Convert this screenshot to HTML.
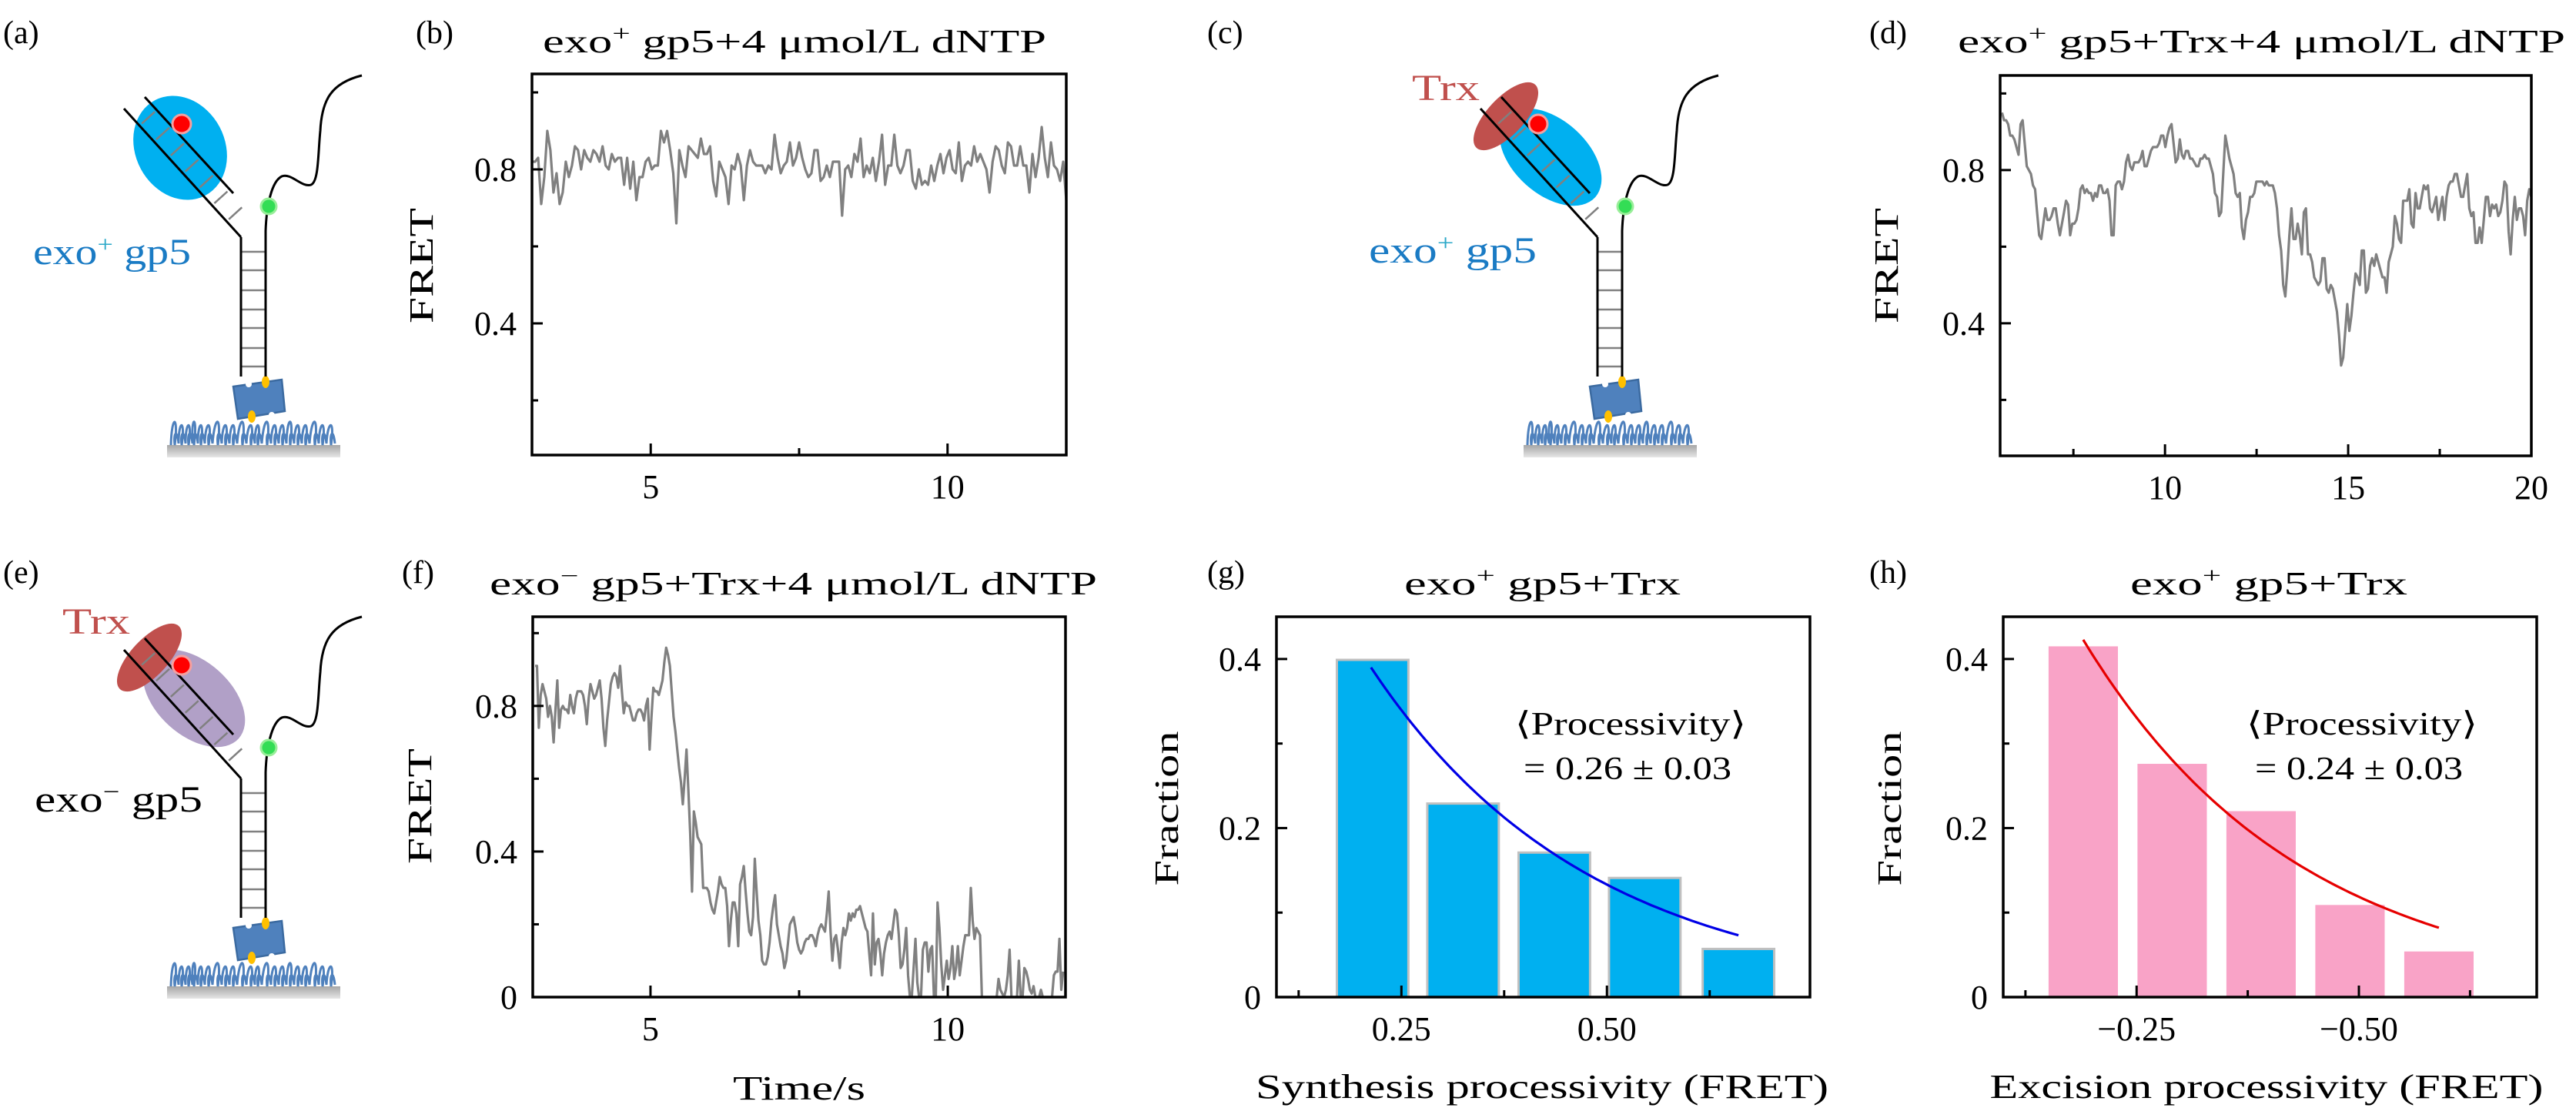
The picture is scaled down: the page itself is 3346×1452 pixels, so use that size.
<!DOCTYPE html>
<html><head><meta charset="utf-8"><style>
html,body{margin:0;padding:0;background:#fff;}
svg, svg text{font-family:"Liberation Serif","DejaVu Serif",serif;}
</style></head><body>
<svg id="fig" width="3346" height="1447" viewBox="0 0 3346 1447" xmlns="http://www.w3.org/2000/svg" font-family="Liberation Serif, serif">
<defs>
<linearGradient id="baseGrad" x1="0" y1="0" x2="0" y2="1"><stop offset="0" stop-color="#a6a6a6"/><stop offset="1" stop-color="#e6e6e6"/></linearGradient>
</defs>
<rect x="0" y="0" width="3346" height="1447" fill="#fff"/>
<g font-size="42" fill="#000">
<text x="4" y="56">(a)</text>
<text x="540" y="56">(b)</text>
<text x="1568" y="56">(c)</text>
<text x="2428" y="56">(d)</text>
<text x="4" y="757">(e)</text>
<text x="522" y="757">(f)</text>
<text x="1568" y="757">(g)</text>
<text x="2428" y="757">(h)</text>
</g>
<g font-size="42" fill="#000">
<text x="705" y="68" textLength="654" lengthAdjust="spacingAndGlyphs">exo<tspan baseline-shift="super" font-size="28">+</tspan> gp5+4 μmol/L dNTP</text>
<text x="2543" y="68" textLength="789" lengthAdjust="spacingAndGlyphs">exo<tspan baseline-shift="super" font-size="28">+</tspan> gp5+Trx+4 μmol/L dNTP</text>
<text x="636" y="772" textLength="789" lengthAdjust="spacingAndGlyphs">exo<tspan baseline-shift="super" font-size="28">−</tspan> gp5+Trx+4 μmol/L dNTP</text>
<text x="1824" y="772" textLength="359" lengthAdjust="spacingAndGlyphs">exo<tspan baseline-shift="super" font-size="28">+</tspan> gp5+Trx</text>
<text x="2767" y="772" textLength="360" lengthAdjust="spacingAndGlyphs">exo<tspan baseline-shift="super" font-size="28">+</tspan> gp5+Trx</text>
</g>
<g font-size="44" fill="#000">
<text transform="translate(562,345) rotate(-90)" text-anchor="middle" textLength="150" lengthAdjust="spacingAndGlyphs">FRET</text>
<text transform="translate(2465,345) rotate(-90)" text-anchor="middle" textLength="150" lengthAdjust="spacingAndGlyphs">FRET</text>
<text transform="translate(560,1047) rotate(-90)" text-anchor="middle" textLength="150" lengthAdjust="spacingAndGlyphs">FRET</text>
<text transform="translate(1530,1050) rotate(-90)" text-anchor="middle" textLength="201" lengthAdjust="spacingAndGlyphs">Fraction</text>
<text transform="translate(2469,1050) rotate(-90)" text-anchor="middle" textLength="201" lengthAdjust="spacingAndGlyphs">Fraction</text>
<text x="1038" y="1428" text-anchor="middle" textLength="172" lengthAdjust="spacingAndGlyphs">Time/s</text>
<text x="2003" y="1426" text-anchor="middle" textLength="744" lengthAdjust="spacingAndGlyphs">Synthesis processivity (FRET)</text>
<text x="2944" y="1426" text-anchor="middle" textLength="719" lengthAdjust="spacingAndGlyphs">Excision processivity (FRET)</text>
</g>
<g font-size="42" fill="#000" text-anchor="middle">
<text x="2118" y="954" textLength="300" lengthAdjust="spacingAndGlyphs">⟨Processivity⟩</text>
<text x="2114" y="1012" textLength="270" lengthAdjust="spacingAndGlyphs">= 0.26 ± 0.03</text>
<text x="3068" y="954" textLength="300" lengthAdjust="spacingAndGlyphs">⟨Processivity⟩</text>
<text x="3064" y="1012" textLength="270" lengthAdjust="spacingAndGlyphs">= 0.24 ± 0.03</text>
</g>
<g font-size="48">
<text x="43" y="343" fill="#1a7bc4" textLength="205" lengthAdjust="spacingAndGlyphs">exo<tspan baseline-shift="super" font-size="30" fill="#2aa8c8">+</tspan> gp5</text>
<text x="1778" y="341" fill="#1a7bc4" textLength="218" lengthAdjust="spacingAndGlyphs">exo<tspan baseline-shift="super" font-size="30" fill="#2aa8c8">+</tspan> gp5</text>
<text x="1834" y="130" fill="#c0504d" textLength="88" lengthAdjust="spacingAndGlyphs">Trx</text>
<text x="45" y="1054" fill="#000" textLength="218" lengthAdjust="spacingAndGlyphs">exo<tspan baseline-shift="super" font-size="30">−</tspan> gp5</text>
<text x="81" y="823" fill="#c0504d" textLength="88" lengthAdjust="spacingAndGlyphs">Trx</text>
</g>
<g id="plots"></g>
</svg>
<script>
// ---------- DATA ----------
const traceBValues = [.82,.82,.83,.71,.78,.90,.85,.74,.79,.71,.74,.82,.78,.81,.86,.85,.80,.85,.83,.82,.85,.84,.82,.86,.81,.80,.84,.82,.83,.83,.76,.83,.75,.82,.72,.78,.78,.82,.83,.80,.81,.81,.90,.87,.90,.85,.79,.66,.85,.81,.78,.86,.85,.84,.83,.88,.84,.84,.86,.77,.73,.82,.80,.78,.71,.81,.80,.84,.81,.72,.81,.85,.82,.81,.81,.81,.79,.81,.80,.89,.83,.79,.81,.82,.87,.81,.83,.87,.83,.80,.78,.79,.85,.85,.77,.78,.81,.78,.82,.82,.82,.68,.80,.81,.78,.84,.82,.88,.78,.81,.79,.83,.77,.82,.89,.76,.81,.81,.89,.81,.79,.81,.85,.85,.77,.75,.80,.76,.77,.76,.81,.77,.81,.84,.79,.83,.85,.80,.79,.87,.77,.81,.82,.81,.86,.82,.84,.82,.80,.74,.82,.86,.85,.81,.79,.87,.86,.81,.81,.86,.81,.81,.74,.84,.78,.83,.91,.83,.78,.87,.81,.80,.77,.82,.72];
const traceBTimeRange = [3.0, 12.0];
const traceDValues = [.95,.93,.93,.92,.89,.89,.88,.86,.84,.92,.93,.87,.81,.80,.79,.76,.75,.69,.63,.62,.66,.70,.67,.67,.68,.70,.70,.66,.63,.66,.69,.72,.71,.63,.66,.66,.67,.70,.75,.76,.74,.75,.74,.74,.72,.74,.73,.76,.76,.74,.74,.75,.72,.63,.63,.76,.77,.77,.75,.77,.82,.84,.81,.80,.82,.82,.82,.83,.85,.81,.81,.83,.85,.86,.86,.86,.87,.89,.89,.86,.89,.91,.92,.87,.82,.83,.88,.84,.83,.85,.85,.83,.83,.82,.81,.81,.83,.83,.84,.83,.83,.81,.79,.74,.73,.68,.69,.79,.89,.86,.83,.81,.79,.74,.73,.74,.65,.62,.67,.69,.73,.73,.74,.77,.77,.77,.77,.76,.77,.76,.76,.76,.74,.70,.63,.59,.50,.47,.54,.63,.70,.62,.62,.66,.63,.58,.69,.70,.58,.58,.56,.52,.51,.50,.51,.57,.57,.49,.48,.50,.49,.46,.43,.37,.29,.31,.38,.45,.38,.42,.48,.53,.52,.50,.59,.59,.48,.49,.55,.57,.55,.58,.56,.54,.52,.52,.48,.56,.58,.60,.68,.66,.62,.61,.72,.72,.72,.75,.66,.65,.74,.70,.70,.73,.76,.75,.76,.70,.69,.71,.73,.67,.70,.73,.67,.73,.76,.77,.77,.79,.79,.76,.73,.73,.76,.79,.70,.68,.69,.61,.61,.65,.61,.67,.73,.73,.68,.71,.70,.71,.68,.69,.72,.77,.76,.64,.58,.67,.73,.67,.70,.70,.68,.63,.72,.75,.73];
const traceDTimeRange = [5.55, 20.0];
const traceFValues = [.91,.91,.74,.83,.86,.84,.82,.77,.80,.77,.70,.79,.87,.74,.79,.80,.79,.79,.78,.83,.80,.78,.82,.84,.84,.84,.83,.80,.75,.82,.86,.84,.82,.83,.85,.87,.82,.74,.69,.76,.81,.86,.88,.89,.88,.85,.91,.84,.78,.81,.80,.80,.78,.76,.76,.78,.79,.79,.78,.76,.80,.82,.68,.77,.85,.84,.84,.83,.85,.87,.92,.96,.94,.91,.84,.77,.73,.68,.63,.59,.53,.60,.68,.57,.45,.29,.51,.48,.44,.43,.42,.30,.30,.30,.29,.26,.24,.23,.26,.29,.33,.31,.30,.30,.25,.14,.21,.26,.26,.23,.14,.31,.33,.36,.29,.23,.18,.17,.22,.38,.29,.21,.17,.10,.09,.09,.11,.15,.21,.25,.28,.20,.17,.14,.12,.08,.10,.15,.20,.21,.22,.19,.15,.13,.12,.13,.15,.16,.16,.17,.17,.16,.14,.17,.19,.20,.19,.18,.23,.29,.18,.10,.16,.17,.13,.08,.15,.19,.17,.19,.23,.21,.23,.22,.24,.24,.25,.23,.21,.19,.18,.12,.06,.23,.09,.15,.16,.12,.06,.12,.15,.17,.18,.16,.20,.24,.23,.17,.08,.09,.13,.19,.06,-.02,-.05,.08,.16,.04,-.02,-.05,.13,.15,.15,.07,.13,.14,-.05,-.05,.26,.19,.09,.02,.06,.10,.05,.08,.14,.05,.08,.14,.06,.10,.14,.17,.17,.17,.30,.21,.16,.19,.18,.17,-.05,-.05,-.05,-.05,-.05,-.05,-.05,-.05,-.05,.05,.02,.01,.00,.02,.06,.13,-.02,-.05,-.05,-.05,.10,-.02,-.05,.08,.07,.05,.02,.01,.03,-.05,-.05,-.05,.02,-.05,-.05,-.05,-.05,-.05,-.05,.06,.07,.07,.16,.02,.07];
const traceFTimeRange = [3.06, 11.94];

const synthBinCenters = [0.215, 0.325, 0.436, 0.546, 0.660];
const synthFractions = [0.399, 0.229, 0.171, 0.141, 0.057];
const synthBarWidth = 0.087;
const synthFit = [0.866, 0.267];
const synthFitRange = [0.213, 0.66];

const excBinCenters = [-0.19, -0.29, -0.39, -0.49, -0.59];
const excFractions = [0.415, 0.276, 0.220, 0.109, 0.054];
const excBarWidth = 0.078;
const excFit = [0.921, 0.244];
const excFitRange = [-0.19, -0.59];

const ticksBX = [5, 10], ticksBXMinor = [7.5];
const ticksDX = [10, 15, 20], ticksDXMinor = [7.5, 12.5, 17.5];
const ticksFRETY = [0.4, 0.8], ticksFRETYMinor = [0.2, 0.6, 1.0];
const ticksFY = [0, 0.4, 0.8];
const ticksGX = [0.25, 0.5], ticksGXMinor = [0.125, 0.375, 0.625];
const ticksGXLabels = ["0.25", "0.50"];
const ticksHX = [-0.25, -0.5], ticksHXMinor = [-0.125, -0.375, -0.625];
const ticksHXLabels = ["−0.25", "−0.50"];
const ticksFracY = [0, 0.2, 0.4], ticksFracYMinor = [0.1, 0.3];
const ticksFracYLabels = ["0", "0.2", "0.4"];

// ---------- DRAWING ----------
const NS = "http://www.w3.org/2000/svg";
const root = document.getElementById("plots");
function mk(tag, attrs, parent) {
  const el = document.createElementNS(NS, tag);
  for (const k in attrs) el.setAttribute(k, attrs[k]);
  (parent || root).appendChild(el);
  return el;
}
function scale(d0, d1, r0, r1) { return v => r0 + (v - d0) / (d1 - d0) * (r1 - r0); }
function fmt(v) { return v === 0 ? "0" : String(v); }

function axes(p) {
  const g = mk("g", {});
  
  
  p.xTicks.forEach((t, i) => {
    const x = p.sx(t);
    const tk = mk("line", {x1: x, x2: x, y1: p.bottom, y2: p.bottom - 15, stroke: "#000", "stroke-width": 3}, g);
    
    
    const lb = mk("text", {x: x, y: p.bottom + 56, "text-anchor": "middle", "font-size": 44, "font-family": "Liberation Serif, serif"}, g);
    
    
    lb.textContent = p.xLabels ? p.xLabels[i] : fmt(t);
  });
  p.xMinor.forEach(t => {
    const x = p.sx(t);
    const tk = mk("line", {x1: x, x2: x, y1: p.bottom, y2: p.bottom - 9, stroke: "#000", "stroke-width": 3}, g);
    
    
  });
  p.yTicks.forEach((t, i) => {
    const y = p.sy(t);
    const tk = mk("line", {x1: p.left, x2: p.left + 14, y1: y, y2: y, stroke: "#000", "stroke-width": 3}, g);
    
    
    const lb = mk("text", {x: p.left - 20, y: y + 15, "text-anchor": "end", "font-size": 44, "font-family": "Liberation Serif, serif"}, g);
    
    
    lb.textContent = p.yLabels ? p.yLabels[i] : fmt(t);
  });
  p.yMinor.forEach(t => {
    const y = p.sy(t);
    const tk = mk("line", {x1: p.left, x2: p.left + 8, y1: y, y2: y, stroke: "#000", "stroke-width": 3}, g);
    
    
  });
}
function frame(p) {
  const r = mk("rect", {x: p.left, y: p.top, width: p.right - p.left, height: p.bottom - p.top, fill: "none", stroke: "#000", "stroke-width": 3.5});
  
  
}
function trace(p, vals, range, name) {
  const n = vals.length;
  const pts = vals.map((v, i) => {
    const t = range[0] + i * (range[1] - range[0]) / (n - 1);
    const vv = Math.max(v, p.ymin);
    return p.sx(t).toFixed(1) + "," + p.sy(vv).toFixed(1);
  });
  const cp = mk("clipPath", {id: "clip-" + p.name});
  mk("rect", {x: p.left, y: p.top, width: p.right - p.left, height: p.bottom - p.top}, cp);
  const pl = mk("polyline", {points: pts.join(" "), fill: "none", stroke: "#808080", "stroke-width": 3.2, "stroke-linejoin": "round", "clip-path": "url(#clip-" + p.name + ")"});
  
  
}
function makePanel(name, left, right, top, bottom, xd, yd) {
  return {name, left, right, top, bottom, ymin: yd[0],
    sx: scale(xd[0], xd[1], left, right), sy: scale(yd[0], yd[1], bottom, top)};
}

const pb = makePanel("panel-b", 691, 1385, 96, 591, [3, 12], [0.058, 1.048]);
Object.assign(pb, {xTicks: ticksBX, xMinor: ticksBXMinor, yTicks: ticksFRETY, yMinor: ticksFRETYMinor});
trace(pb, traceBValues, traceBTimeRange, "fret-trace-b");
axes(pb); frame(pb);

const pd = makePanel("panel-d", 2598, 3288, 98, 592, [5.5, 20], [0.054, 1.047]);
Object.assign(pd, {xTicks: ticksDX, xMinor: ticksDXMinor, yTicks: ticksFRETY, yMinor: ticksFRETYMinor});
trace(pd, traceDValues, traceDTimeRange, "fret-trace-d");
axes(pd); frame(pd);

const pf = makePanel("panel-f", 692, 1384, 801, 1295, [3.02, 11.98], [0, 1.045]);
Object.assign(pf, {xTicks: ticksBX, xMinor: ticksBXMinor, yTicks: ticksFY, yMinor: ticksFRETYMinor});
trace(pf, traceFValues, traceFTimeRange, "fret-trace-f");
axes(pf); frame(pf);

function hist(p, centers, fr, w, color, stroke, fit, frange, fitColor, name) {
  centers.forEach((c, i) => {
    const xa = p.sx(c - w / 2), xb = p.sx(c + w / 2);
    const y = p.sy(fr[i]);
    const r = mk("rect", {x: Math.min(xa, xb), y: y, width: Math.abs(xb - xa), height: p.bottom - y, fill: color, stroke: stroke || "none", "stroke-width": stroke ? 3 : 0});
    
    
  });
  const pts = [];
  for (let k = 0; k <= 80; k++) {
    const x = frange[0] + (frange[1] - frange[0]) * k / 80;
    const y = fit[0] * Math.exp(-Math.abs(x) / fit[1]);
    pts.push(p.sx(x).toFixed(1) + "," + p.sy(y).toFixed(1));
  }
  const pl = mk("polyline", {points: pts.join(" "), fill: "none", stroke: fitColor, "stroke-width": 3.2});
  
  
}
const pg = makePanel("panel-g", 1658, 2351, 801, 1295, [0.098, 0.747], [0, 0.45]);
Object.assign(pg, {xTicks: ticksGX, xMinor: ticksGXMinor, xLabels: ticksGXLabels, yTicks: ticksFracY, yMinor: ticksFracYMinor, yLabels: ticksFracYLabels});
hist(pg, synthBinCenters, synthFractions, synthBarWidth, "#00b0f0", "#c0c0c0", synthFit, synthFitRange, "#0000e6", "synthesis");
axes(pg); frame(pg);

const ph = makePanel("panel-h", 2602, 3295, 801, 1295, [-0.1, -0.7], [0, 0.45]);
Object.assign(ph, {xTicks: ticksHX, xMinor: ticksHXMinor, xLabels: ticksHXLabels, yTicks: ticksFracY, yMinor: ticksFracYMinor, yLabels: ticksFracYLabels});
hist(ph, excBinCenters, excFractions, excBarWidth, "#f9a3c7", null, excFit, excFitRange, "#e60000", "excision");
axes(ph); frame(ph);

// ---------- SCHEMATICS ----------
function diagram(dx, dy, variant, name) {
  const g = mk("g", {transform: "translate(" + dx + "," + dy + ")"});
  
  
  const base = mk("rect", {x: 217, y: 578, width: 225, height: 16, fill: "url(#baseGrad)"}, g);
  
  
  let d = "M222,578";
  const loops = [0,9,18,25,34,44,56,66,76,88,99,108,120,130,140,150,160,170,182,192,203];
  loops.forEach((x, i) => {
    const bx = 222 + x, h = (i % 3 === 0) ? 40 : 34;
    d += " C" + (bx + 1) + "," + (578 - h) + " " + (bx + 10) + "," + (578 - h) + " " + (bx + 5) + ",578";
    d += " C" + (bx + 3) + "," + (562) + " " + (bx + 8) + "," + (556) + " " + (bx + 10) + ",576";
  });
  const brush = mk("path", {d: d, fill: "none", stroke: "#4f81bd", "stroke-width": 3}, g);
  
  
  const block = mk("polygon", {points: "303,502 366,493 370,534 309,544", fill: "#4f81bd", stroke: "#3b6aa0", "stroke-width": 2.5}, g);
  
  
  mk("circle", {cx: 323, cy: 499, r: 4, fill: "#fff"}, g);
  mk("circle", {cx: 353, cy: 539, r: 4, fill: "#fff"}, g);
  const y1 = mk("ellipse", {cx: 345, cy: 496, rx: 5, ry: 8, fill: "#ffc000"}, g);
  
  
  const y2 = mk("ellipse", {cx: 327, cy: 541, rx: 5, ry: 8, fill: "#ffc000"}, g);
  
  
  [327, 351, 377, 402, 426, 452, 476].forEach(y => {
    const r = mk("line", {x1: 313, x2: 345, y1: y, y2: y, stroke: "#808080", "stroke-width": 2.5}, g);
    
    
  });
  const s1 = mk("line", {x1: 313, y1: 308, x2: 313, y2: 489, stroke: "#000", "stroke-width": 3}, g);
  
  const s2 = mk("line", {x1: 345, y1: 300, x2: 345, y2: 489, stroke: "#000", "stroke-width": 3}, g);
  
  if (variant === "a") {
    const e = mk("ellipse", {cx: 0, cy: 0, rx: 70, ry: 58, fill: "#00b0f0", transform: "translate(234,192) rotate(62)"}, g);
    
    
  } else {
    const e = mk("ellipse", {cx: 0, cy: 0, rx: 78, ry: 48, fill: variant === "c" ? "#00b0f0" : "#b1a0c7", transform: "translate(252,204) rotate(42)"}, g);
    
    
    const t = mk("ellipse", {cx: 0, cy: 0, rx: 56, ry: 24, fill: "#c0504d", transform: "translate(194,151) rotate(-47)"}, g);
    
    
  }
  const ux = 0.673, uy = 0.740, nx = 0.740, ny = -0.673;
  [30, 58, 86, 114, 142, 170, 198].forEach(s => {
    const px = 161 + ux * s, py = 141 + uy * s;
    const r = mk("line", {x1: px + nx * 4, y1: py + ny * 4, x2: px + nx * 27, y2: py + ny * 27, stroke: "#808080", "stroke-width": 2.5}, g);
    
    
  });
  const l1 = mk("line", {x1: 161, y1: 141, x2: 313, y2: 308, stroke: "#000", "stroke-width": 3}, g);
  
  const l2 = mk("line", {x1: 188, y1: 126, x2: 303, y2: 251, stroke: "#000", "stroke-width": 3}, g);
  
  const wavy = mk("path", {d: "M345,300 C346,270 352,236 366,229 C378,224 392,244 404,240 C414,236 413,200 416,170 C418,130 430,108 470,98", fill: "none", stroke: "#000", "stroke-width": 3}, g);
  
  
  const gd = mk("circle", {cx: 349, cy: 268, r: 10, fill: "#33dd55", stroke: "#99ee99", "stroke-width": 3}, g);
  
  
  const rd = mk("circle", {cx: 236, cy: 161, r: 12, fill: "#ff0000", stroke: "#f4a0a0", "stroke-width": 3}, g);
  
  
}
diagram(0, 0, "a", "diagram-a");
diagram(1762, 0, "c", "diagram-c");
diagram(0, 703, "e", "diagram-e");
</script>
</body></html>
